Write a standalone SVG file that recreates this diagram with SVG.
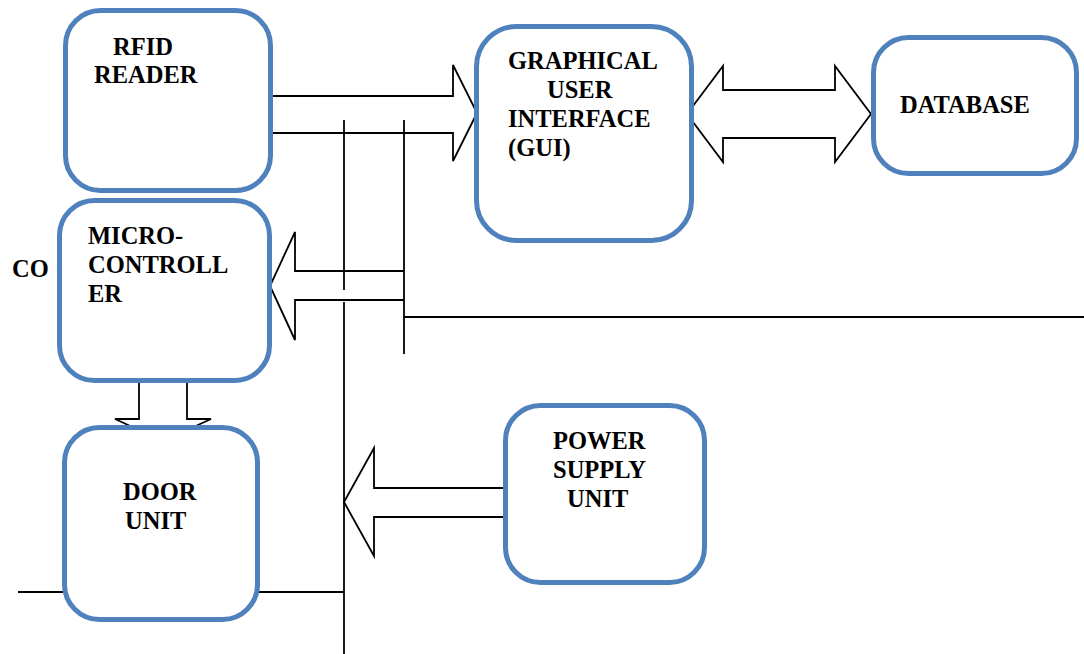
<svg xmlns="http://www.w3.org/2000/svg" width="1084" height="654" viewBox="0 0 1084 654">
<style>
.box{fill:#fff;stroke:#4F81BD;stroke-width:5}
.ln{fill:none;stroke:#000;stroke-width:1.8}
text{font-family:'Liberation Serif','Times New Roman',serif;font-weight:700;font-size:24.5px;fill:#000}
</style>
<rect width="1084" height="654" fill="#fff"/>
<text x="12" y="277">CO</text>
<g id="connectors">
<path class="ln" d="M273,96 H453 V65 L477,113 L453,161 V133 H273"/>
<path class="ln" d="M344,120 V290 M344,302 V654"/>
<path class="ln" d="M404,120 V354 M404,317 H1084"/>
<path class="ln" d="M404,271 H295 V232 L270,286 L295,340 V300 H404"/>
<path class="ln" d="M723,90 V66 L687,114 L723,162 V138 H835 V162 L871,114 L835,66 V90 Z"/>
<path class="ln" d="M139,380 V419 H115 L163,441 L211,419 H187 V380"/>
<path class="ln" d="M505,488 H374 V448 L344,502 L374,556 V517 H505 Z"/>
<path class="ln" d="M18,592 H344"/>
</g>
<g id="rfid">
<rect class="box" x="65.5" y="10.5" width="205" height="180" rx="35"/>
<text x="113" y="55">RFID</text>
<text x="94" y="83">READER</text>
</g>
<g id="gui">
<rect class="box" x="476.5" y="26.5" width="215" height="214" rx="40"/>
<text x="508" y="69">GRAPHICAL</text>
<text x="547" y="98">USER</text>
<text x="508" y="127">INTERFACE</text>
<text x="508" y="156">(GUI)</text>
</g>
<g id="database">
<rect class="box" x="873.5" y="37.5" width="203" height="136" rx="35"/>
<text x="900" y="113">DATABASE</text>
</g>
<g id="microcontroller">
<rect class="box" x="59.5" y="200.5" width="210" height="180" rx="35"/>
<text x="88" y="244">MICRO-</text>
<text x="88" y="273">CONTROLL</text>
<text x="88" y="302">ER</text>
</g>
<g id="door">
<rect class="box" x="64.5" y="427.5" width="193" height="192" rx="35"/>
<text x="123" y="500">DOOR</text>
<text x="125" y="529">UNIT</text>
</g>
<g id="power">
<rect class="box" x="505.5" y="405.5" width="199" height="177" rx="35"/>
<text x="553" y="449">POWER</text>
<text x="553" y="478">SUPPLY</text>
<text x="567" y="507">UNIT</text>
</g>
</svg>
